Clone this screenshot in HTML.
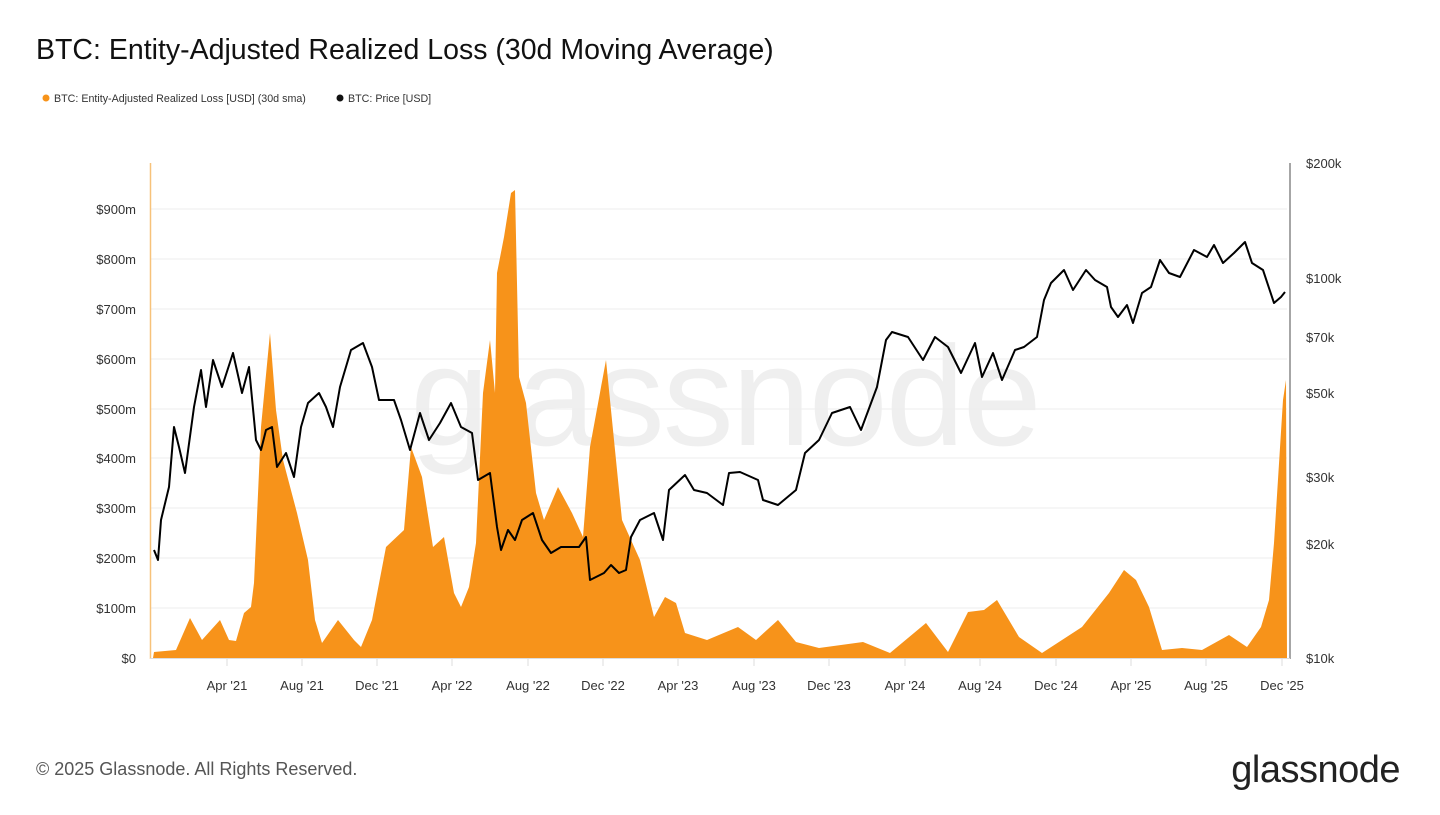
<!DOCTYPE html>
<html><head><meta charset="utf-8"><style>
body{margin:0;width:1440px;height:810px;background:#fff;font-family:"Liberation Sans",sans-serif;overflow:hidden}
</style></head><body>
<svg width="1440" height="810" viewBox="0 0 1440 810" xmlns="http://www.w3.org/2000/svg" font-family="Liberation Sans, sans-serif">
<text x="36" y="59" font-size="28.5" fill="#111">BTC: Entity-Adjusted Realized Loss (30d Moving Average)</text>
<circle cx="46" cy="98" r="3.5" fill="#f7931a"/>
<text x="54" y="102" font-size="10.7" fill="#333">BTC: Entity-Adjusted Realized Loss [USD] (30d sma)</text>
<circle cx="340" cy="98" r="3.5" fill="#111"/>
<text x="348" y="102" font-size="10.7" fill="#333">BTC: Price [USD]</text>
<text x="725" y="445" font-size="142" fill="#efefef" text-anchor="middle" letter-spacing="-2">glassnode</text>
<g stroke="#eeeeee" stroke-width="1">
<line x1="150" x2="1287" y1="209" y2="209"/><line x1="150" x2="1287" y1="259" y2="259"/><line x1="150" x2="1287" y1="309" y2="309"/><line x1="150" x2="1287" y1="359" y2="359"/><line x1="150" x2="1287" y1="409" y2="409"/><line x1="150" x2="1287" y1="458" y2="458"/><line x1="150" x2="1287" y1="508" y2="508"/><line x1="150" x2="1287" y1="558" y2="558"/><line x1="150" x2="1287" y1="608" y2="608"/>
</g>
<g font-size="13" fill="#333" text-anchor="end">
<text x="136" y="663">$0</text><text x="136" y="613">$100m</text><text x="136" y="563">$200m</text><text x="136" y="513">$300m</text><text x="136" y="463">$400m</text><text x="136" y="414">$500m</text><text x="136" y="364">$600m</text><text x="136" y="314">$700m</text><text x="136" y="264">$800m</text><text x="136" y="214">$900m</text>
</g>
<g font-size="13" fill="#333">
<text x="1306" y="168">$200k</text><text x="1306" y="283">$100k</text><text x="1306" y="342">$70k</text><text x="1306" y="398">$50k</text><text x="1306" y="482">$30k</text><text x="1306" y="549">$20k</text><text x="1306" y="663">$10k</text>
</g>
<g font-size="13" fill="#333" text-anchor="middle">
<text x="227" y="690">Apr '21</text><text x="302" y="690">Aug '21</text><text x="377" y="690">Dec '21</text><text x="452" y="690">Apr '22</text><text x="528" y="690">Aug '22</text><text x="603" y="690">Dec '22</text><text x="678" y="690">Apr '23</text><text x="754" y="690">Aug '23</text><text x="829" y="690">Dec '23</text><text x="905" y="690">Apr '24</text><text x="980" y="690">Aug '24</text><text x="1056" y="690">Dec '24</text><text x="1131" y="690">Apr '25</text><text x="1206" y="690">Aug '25</text><text x="1282" y="690">Dec '25</text>
</g>
<g stroke="#ddd"><line x1="227" x2="227" y1="659" y2="666"/><line x1="302" x2="302" y1="659" y2="666"/><line x1="377" x2="377" y1="659" y2="666"/><line x1="452" x2="452" y1="659" y2="666"/><line x1="528" x2="528" y1="659" y2="666"/><line x1="603" x2="603" y1="659" y2="666"/><line x1="678" x2="678" y1="659" y2="666"/><line x1="754" x2="754" y1="659" y2="666"/><line x1="829" x2="829" y1="659" y2="666"/><line x1="905" x2="905" y1="659" y2="666"/><line x1="980" x2="980" y1="659" y2="666"/><line x1="1056" x2="1056" y1="659" y2="666"/><line x1="1131" x2="1131" y1="659" y2="666"/><line x1="1206" x2="1206" y1="659" y2="666"/><line x1="1282" x2="1282" y1="659" y2="666"/></g>
<polygon fill="#f7931a" points="153,658 154,652 176,650 190,618 202,640 220,620 229,640 236,641 244,613 251,607 254,583 261,427 270,333 276,410 283,460 297,513 308,560 315,620 322,643 338,620 354,640 361,647 372,620 386,547 404,530 411,447 422,477 433,547 444,537 454,593 461,607 469,587 476,543 483,393 490,340 495,393 497,273 504,237 511,193 515,190 519,377 526,403 536,493 544,520 558,487 572,513 583,537 590,447 606,360 615,450 622,520 640,560 654,617 665,597 676,603 685,633 707,640 738,627 756,640 778,620 796,642 819,648 863,642 890,653 926,623 948,652 968,612 984,610 997,600 1019,637 1042,653 1082,627 1109,593 1124,570 1136,580 1149,607 1162,650 1182,648 1202,650 1229,635 1247,647 1261,627 1269,600 1274,543 1283,400 1286,380 1287,658"/>
<line x1="150.5" x2="150.5" y1="163" y2="659" stroke="#f7c27a" stroke-width="1.5"/>
<line x1="1290" x2="1290" y1="163" y2="659" stroke="#888" stroke-width="1.5"/>
<line x1="150" x2="1290" y1="658.5" y2="658.5" stroke="#ddd"/>
<polyline fill="none" stroke="#000" stroke-width="2" stroke-linejoin="round" points="154,550 158,560 161,520 169,487 174,427 179,447 185,473 194,407 201,370 206,407 213,360 222,387 233,353 242,393 249,367 256,440 261,450 266,430 272,427 277,467 286,453 294,477 301,427 308,403 319,393 326,407 333,427 340,387 351,350 363,343 372,367 379,400 394,400 401,420 410,450 420,413 429,440 440,423 451,403 461,427 472,433 478,480 490,473 497,527 501,550 508,530 515,540 522,520 533,513 542,540 551,553 561,547 579,547 586,537 590,580 604,573 611,565 619,573 626,570 631,537 640,520 654,513 663,540 669,490 685,475 694,490 707,493 723,505 729,473 740,472 758,480 763,500 778,505 796,490 805,453 819,440 832,413 850,407 861,430 877,387 886,340 892,332 908,337 923,360 935,337 948,347 961,373 975,343 982,377 993,353 1002,380 1015,350 1024,347 1037,337 1044,300 1051,283 1064,270 1073,290 1086,270 1095,280 1107,287 1111,307 1118,317 1127,305 1133,323 1142,293 1151,287 1160,260 1169,273 1180,277 1194,250 1207,257 1214,245 1223,263 1234,253 1245,242 1252,263 1263,270 1274,303 1281,297 1285,292"/>
<text x="36" y="775" font-size="18" fill="#555">© 2025 Glassnode. All Rights Reserved.</text>
<text x="1400" y="782" font-size="38" fill="#222" text-anchor="end" letter-spacing="-0.5">glassnode</text>
</svg>
</body></html>
